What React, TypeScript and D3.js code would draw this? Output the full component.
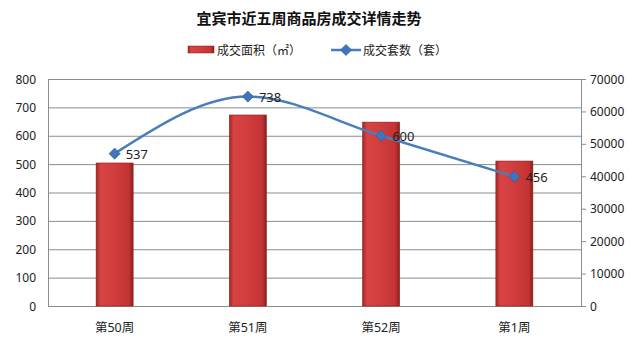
import { useEffect, useRef } from "react";
import * as d3 from "d3";

const weeks = ["第50周", "第51周", "第52周", "第1周"];
const areaValues = [44100, 58900, 56700, 44700]; // 成交面积（㎡）
const countValues = [537, 738, 600, 456]; // 成交套数（套）
const leftTicks = [0, 100, 200, 300, 400, 500, 600, 700, 800];
const rightTicks = [0, 10000, 20000, 30000, 40000, 50000, 60000, 70000];

const W = 640;
const H = 352;
const FONT = "'Noto Sans', 'Noto Sans CJK SC', sans-serif";
const CJK = "'Noto Sans CJK SC', sans-serif";

export default function App() {
  const svgRef = useRef<SVGSVGElement>(null);

  useEffect(() => {
    if (!svgRef.current) return;
    const svg = d3.select(svgRef.current);
    svg.selectAll("*").remove();

    const m = { left: 48, right: 59, top: 79, bottom: 46 };
    const x0 = m.left;
    const x1 = W - m.right;
    const y0 = H - m.bottom;
    const y1 = m.top;

    svg.append("rect").attr("width", W).attr("height", H).attr("fill", "#fff");
    // image frame
    svg.append("rect").attr("x", 0).attr("y", 0).attr("width", 2).attr("height", H).attr("fill", "#111");
    svg.append("rect").attr("x", 0).attr("y", 0).attr("width", W).attr("height", 1.5).attr("fill", "#111");
    svg.append("rect").attr("x", W - 2).attr("y", 0).attr("width", 2).attr("height", H).attr("fill", "#111");
    svg.append("rect").attr("x", 0).attr("y", H - 3).attr("width", W).attr("height", 3).attr("fill", "#111");

    const defs = svg.append("defs");
    const grad = defs.append("linearGradient").attr("id", "barGrad").attr("x1", "0").attr("x2", "1");
    grad.append("stop").attr("offset", "0").attr("stop-color", "#a82424");
    grad.append("stop").attr("offset", "0.12").attr("stop-color", "#d84444");
    grad.append("stop").attr("offset", "0.5").attr("stop-color", "#d13c3c");
    grad.append("stop").attr("offset", "0.88").attr("stop-color", "#c43434");
    grad.append("stop").attr("offset", "1").attr("stop-color", "#8e1e1e");

    const x = d3.scaleBand<string>().domain(weeks).range([x0, x1]);
    const yL = d3.scaleLinear().domain([0, 800]).range([y0, y1]);
    const yR = d3.scaleLinear().domain([0, 70000]).range([y0, y1]);

    // gridlines
    svg
      .append("g")
      .selectAll("line")
      .data(leftTicks.slice(1))
      .enter()
      .append("line")
      .attr("x1", x0)
      .attr("x2", x1)
      .attr("y1", (d) => yL(d) + 0.5)
      .attr("y2", (d) => yL(d) + 0.5)
      .attr("stroke", "#8c8c8c")
      .attr("stroke-width", 1);

    // axes lines
    svg.append("line").attr("x1", x0 + 0.5).attr("x2", x0 + 0.5).attr("y1", y1).attr("y2", y0).attr("stroke", "#8c8c8c");
    svg.append("line").attr("x1", x1 + 0.5).attr("x2", x1 + 0.5).attr("y1", y1).attr("y2", y0).attr("stroke", "#8c8c8c");
    svg.append("line").attr("x1", x0).attr("x2", x1).attr("y1", y0 + 0.5).attr("y2", y0 + 0.5).attr("stroke", "#8c8c8c");

    // left tick labels
    svg
      .append("g")
      .selectAll("text")
      .data(leftTicks)
      .enter()
      .append("text")
      .attr("x", x0 - 12)
      .attr("y", (d) => yL(d) + 4.5)
      .attr("text-anchor", "end")
      .attr("font-size", 12)
      .attr("font-family", FONT)
      .attr("fill", "#222")
      .text((d) => d);

    // right ticks and labels
    const rg = svg.append("g");
    rg.selectAll("line")
      .data(rightTicks)
      .enter()
      .append("line")
      .attr("x1", x1)
      .attr("x2", x1 + 5)
      .attr("y1", (d) => yR(d) + 0.5)
      .attr("y2", (d) => yR(d) + 0.5)
      .attr("stroke", "#8c8c8c");
    rg.selectAll("text")
      .data(rightTicks)
      .enter()
      .append("text")
      .attr("x", x1 + 9)
      .attr("y", (d) => yR(d) + 4.5)
      .attr("font-size", 12)
      .attr("font-family", FONT)
      .attr("fill", "#222")
      .text((d) => d);

    // bars
    const bw = 37;
    svg
      .append("g")
      .selectAll("rect")
      .data(areaValues)
      .enter()
      .append("rect")
      .attr("x", (_d, i) => (x(weeks[i]) ?? 0) + x.bandwidth() / 2 - bw / 2)
      .attr("y", (d) => yR(d))
      .attr("width", bw)
      .attr("height", (d) => y0 - yR(d))
      .attr("fill", "url(#barGrad)")
      .attr("stroke", "#8a1c1c")
      .attr("stroke-width", 0.6);

    // category labels
    svg
      .append("g")
      .selectAll("text")
      .data(weeks)
      .enter()
      .append("text")
      .attr("x", (d) => (x(d) ?? 0) + x.bandwidth() / 2)
      .attr("y", y0 + 26)
      .attr("text-anchor", "middle")
      .attr("font-size", 12.5)
      .attr("font-family", FONT)
      .attr("fill", "#222")
      .text((d) => d);

    // line
    const cx = (i: number) => (x(weeks[i]) ?? 0) + x.bandwidth() / 2;
    const line = d3
      .line<number>()
      .x((_d, i) => cx(i))
      .y((d) => yL(d))
      .curve(d3.curveMonotoneX);
    svg
      .append("path")
      .attr("d", line(countValues))
      .attr("fill", "none")
      .attr("stroke", "#4a7ebb")
      .attr("stroke-width", 2.5);

    const diamond = d3.symbol().type(d3.symbolDiamond2).size(80);
    svg
      .append("g")
      .selectAll("path")
      .data(countValues)
      .enter()
      .append("path")
      .attr("d", diamond)
      .attr("transform", (d, i) => `translate(${cx(i)},${yL(d)})`)
      .attr("fill", "#3f75bd")
      .attr("stroke", "#2c5a96")
      .attr("stroke-width", 0.6);

    svg
      .append("g")
      .selectAll("text")
      .data(countValues)
      .enter()
      .append("text")
      .attr("x", (_d, i) => cx(i) + 11)
      .attr("y", (d) => yL(d) + 5)
      .attr("font-size", 13)
      .attr("font-family", FONT)
      .attr("fill", "#222")
      .text((d) => d);

    // title
    svg
      .append("text")
      .attr("x", 309)
      .attr("y", 24)
      .attr("text-anchor", "middle")
      .attr("font-size", 15)
      .attr("font-weight", "bold")
      .attr("font-family", CJK)
      .attr("fill", "#111")
      .text("宜宾市近五周商品房成交详情走势");

    // legend
    const lg = svg.append("g").attr("font-family", CJK).attr("font-size", 12).attr("fill", "#222");
    lg.append("rect").attr("x", 188).attr("y", 46).attr("width", 26).attr("height", 7).attr("fill", "url(#barGrad)").attr("stroke", "#8a1c1c").attr("stroke-width", 0.5);
    lg.append("text").attr("x", 217).attr("y", 54.5).text("成交面积（㎡）");
    lg.append("line").attr("x1", 331).attr("x2", 361).attr("y1", 50).attr("y2", 50).attr("stroke", "#4a7ebb").attr("stroke-width", 2.5);
    lg.append("path").attr("d", diamond).attr("transform", "translate(346,50)").attr("fill", "#3f75bd").attr("stroke", "#2c5a96").attr("stroke-width", 0.6);
    lg.append("text").attr("x", 363).attr("y", 54.5).text("成交套数（套）");
  }, []);

  return (
    <div style={{ margin: -8 }}>
      <svg ref={svgRef} width={W} height={H} style={{ display: "block" }} />
    </div>
  );
}
